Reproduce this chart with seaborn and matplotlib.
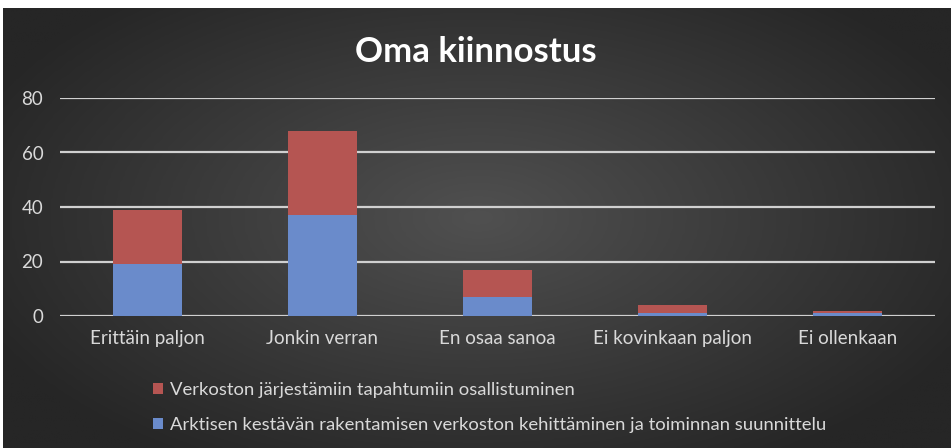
import numpy as np
import pandas as pd
import matplotlib
matplotlib.use("Agg")
import matplotlib.pyplot as plt
from matplotlib.patches import Patch
import seaborn as sns

# values
categories = ["Erittäin paljon", "Jonkin verran", "En osaa sanoa", "Ei kovinkaan paljon", "Ei ollenkaan"]
arktinen = [19, 37, 7, 1, 1]
tapahtumat = [20, 31, 10, 3, 1]
yticks = [0, 20, 40, 60, 80]

label_red = "Verkoston järjestämiin tapahtumiin osallistuminen"
label_blue = "Arktisen kestävän rakentamisen verkoston kehittäminen ja toiminnan suunnittelu"

df = pd.DataFrame({"kategoria": categories, "arktinen": arktinen, "tapahtumat": tapahtumat})
df["yhteensa"] = df["arktinen"] + df["tapahtumat"]

sns.set_style("dark")
plt.rcParams["font.family"] = ["Lato", "DejaVu Sans"]

red = "#b55552"
blue = "#6a8bcb"
txt = "#d9d9d9"

fig = plt.figure(figsize=(9.51, 4.48), dpi=100)
fig.patch.set_facecolor("white")

# dark panel with a soft radial gradient
bg = fig.add_axes([3 / 951, 0, 948 / 951, 440 / 448])
yy, xx = np.mgrid[0:200, 0:400]
r = np.sqrt(((xx - 200) / 230.0) ** 2 + ((yy - 95) / 130.0) ** 2)
grad = np.clip(1 - r, 0, 1)
bg.imshow(grad, cmap=matplotlib.colors.LinearSegmentedColormap.from_list("g", ["#262626", "#505050"]),
          aspect="auto", extent=[0, 1, 0, 1], interpolation="bilinear")
bg.set_axis_off()

ax = fig.add_axes([60 / 951, (448 - 316) / 448, 875 / 951, (316 - 98) / 448])
ax.patch.set_alpha(0)

sns.barplot(data=df, x="kategoria", y="yhteensa", color=red, saturation=1, width=0.39,
            linewidth=0, edgecolor="none", ax=ax, zorder=3)
sns.barplot(data=df, x="kategoria", y="arktinen", color=blue, saturation=1, width=0.39,
            linewidth=0, edgecolor="none", ax=ax, zorder=4)

ax.set_ylim(0, 80)
ax.set_xlim(-0.5, len(categories) - 0.5)
ax.set_yticks(yticks)
ax.yaxis.grid(True, color="#d0d0d0", linewidth=1.6, zorder=1)
ax.xaxis.grid(False)
ax.set_axisbelow(True)
for s in ax.spines.values():
    s.set_visible(False)
ax.tick_params(axis="both", length=0, colors=txt, labelsize=13.5)
ax.tick_params(axis="y", pad=12)
ax.tick_params(axis="x", pad=10)
ax.set_xlabel("")
ax.set_ylabel("")

fig.text(476 / 951, 1 - 52 / 448, "Oma kiinnostus", ha="center", va="center",
         color="white", fontsize=25, fontweight="bold")

handles = [Patch(facecolor=red, edgecolor="none"), Patch(facecolor=blue, edgecolor="none")]
leg = fig.legend(handles, [label_red, label_blue], loc="upper left",
                 bbox_to_anchor=(136 / 951, 1 - 365 / 448), frameon=False,
                 fontsize=13.3, labelcolor=txt, handlelength=0.55, handleheight=0.55,
                 handletextpad=0.4, labelspacing=1.05)

fig.savefig("out.png", dpi=100, facecolor=fig.get_facecolor())
